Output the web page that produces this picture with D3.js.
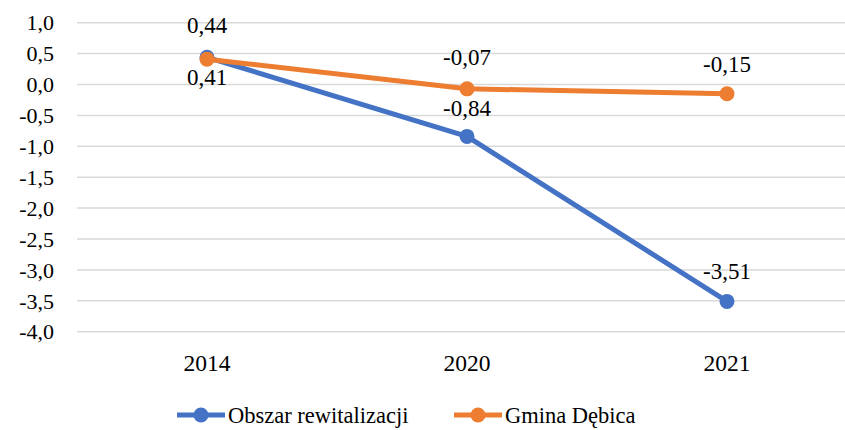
<!DOCTYPE html>
<html>
<head>
<meta charset="utf-8">
<script src="https://cdn.jsdelivr.net/npm/d3@7"></script>
<style>
  body { margin: 0; background: #fff; }
</style>
</head>
<body>
<div id="chart"></div>
<script>
const years = ["2014", "2020", "2021"];
const obszar = [0.44, -0.84, -3.51];
const gmina = [0.41, -0.07, -0.15];
const yTicks = [1.0, 0.5, 0.0, -0.5, -1.0, -1.5, -2.0, -2.5, -3.0, -3.5, -4.0];

const width = 845;
const height = 430;
// no serif face is installed, so fall back to the metric-compatible sans
const fontStack = "'Liberation Serif', 'Times New Roman', 'Liberation Sans', Arial, sans-serif";

const svg = d3.select("#chart")
  .append("svg")
  .attr("width", width)
  .attr("height", height)
  .style("font-family", fontStack);

const x = d3.scaleBand().domain(years).range([77, 857]);
const y = d3.scaleLinear().domain([-4, 1]).range([331.7, 22.7]);

const fmt = v => d3.format(".1f")(v).replace(".", ",").replace("−", "-");
const fmt2 = v => d3.format(".2f")(v).replace(".", ",").replace("−", "-");

// gridlines
svg.append("g")
  .selectAll("line")
  .data(yTicks)
  .join("line")
  .attr("x1", 77)
  .attr("x2", 857)
  .attr("y1", d => y(d))
  .attr("y2", d => y(d))
  .attr("stroke", "#d9d9d9")
  .attr("stroke-width", 1.5);

// y labels
svg.append("g")
  .selectAll("text")
  .data(yTicks)
  .join("text")
  .attr("x", 54)
  .attr("y", d => y(d))
  .attr("dy", "0.35em")
  .attr("text-anchor", "end")
  .attr("font-size", 22)
  .text(d => fmt(d));

// x labels
svg.append("g")
  .selectAll("text")
  .data(years)
  .join("text")
  .attr("x", d => x(d) + x.bandwidth() / 2)
  .attr("y", 371)
  .attr("text-anchor", "middle")
  .attr("font-size", 23.5)
  .text(d => d);

const cx = d => x(d) + x.bandwidth() / 2;
const line = d3.line().x(d => cx(d.year)).y(d => y(d.v));

const series = [
  { name: "Obszar rewitalizacji", values: obszar, color: "#4472C4", labelDy: [-32, -28, -30] },
  { name: "Gmina Dębica", values: gmina, color: "#ED7D31", labelDy: [18, -32, -30] }
];

series.forEach(s => {
  const pts = years.map((yr, i) => ({ year: yr, v: s.values[i], dy: s.labelDy[i] }));
  svg.append("path")
    .datum(pts)
    .attr("d", line)
    .attr("fill", "none")
    .attr("stroke", s.color)
    .attr("stroke-width", 5)
    .attr("stroke-linejoin", "round");
  svg.append("g")
    .selectAll("circle")
    .data(pts)
    .join("circle")
    .attr("cx", d => cx(d.year))
    .attr("cy", d => y(d.v))
    .attr("r", 7.5)
    .attr("fill", s.color);
  s.pts = pts;
});

series.forEach(s => {
  svg.append("g")
    .selectAll("text")
    .data(s.pts)
    .join("text")
    .attr("x", d => cx(d.year))
    .attr("y", d => y(d.v) + d.dy)
    .attr("dy", "0.35em")
    .attr("text-anchor", "middle")
    .attr("font-size", 23)
    .text(d => fmt2(d.v));
});

// legend
const legend = svg.append("g");
const legendItems = [
  { name: series[0].name, color: series[0].color, x: 177 },
  { name: series[1].name, color: series[1].color, x: 454 }
];
legendItems.forEach(d => {
  legend.append("line")
    .attr("x1", d.x).attr("x2", d.x + 48)
    .attr("y1", 415).attr("y2", 415)
    .attr("stroke", d.color)
    .attr("stroke-width", 5);
  legend.append("circle")
    .attr("cx", d.x + 24).attr("cy", 415).attr("r", 7.5)
    .attr("fill", d.color);
  legend.append("text")
    .attr("x", d.x + 51)
    .attr("y", 423)
    .attr("font-size", 22.5)
    .text(d.name);
});
</script>
</body>
</html>
